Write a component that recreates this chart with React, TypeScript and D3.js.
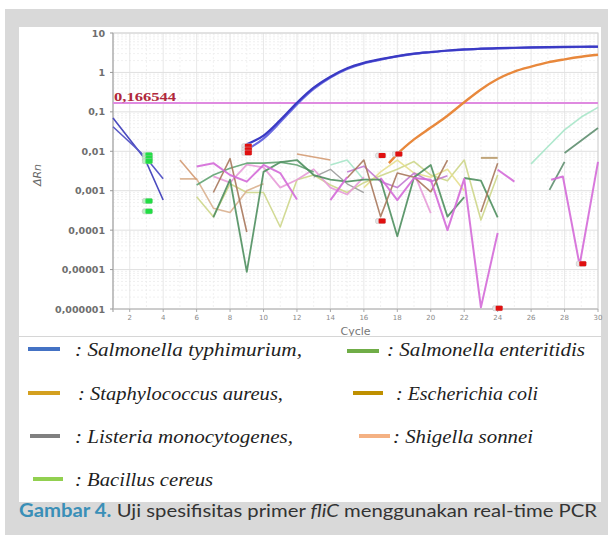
import React from "react";
import * as d3 from "d3";

type Pt = [number, number] | null;

// ---------- data ----------
const cycleTicks = [2, 4, 6, 8, 10, 12, 14, 16, 18, 20, 22, 24, 26, 28, 30];
const yTickValues = [10, 1, 0.1, 0.01, 0.001, 0.0001, 0.00001, 0.000001];
const yTickLabels = ["10", "1", "0,1", "0,01", "0,001", "0,0001", "0,00001", "0,000001"];
const thresholdValue = 0.166544;
const thresholdLabel = "0,166544";

const blueEarlyA: Pt[] = [[1, 0.07], [2.9, 0.0065], [4, 0.00058]];
const blueEarlyB: Pt[] = [[1, 0.042], [2.9, 0.0075], [4, 0.002]];
const blueAmpA: Pt[] = [[9, 0.015], [10, 0.025], [11, 0.062], [12, 0.17], [13, 0.41], [14, 0.78], [15, 1.28], [16, 1.75], [17, 2.17], [18, 2.6], [19, 3.0], [20, 3.3], [21, 3.6], [22, 3.85], [23, 4.0], [24, 4.12], [25, 4.22], [26, 4.3], [27, 4.37], [28, 4.43], [29, 4.48], [30, 4.52]];
const blueAmpB: Pt[] = [[9, 0.011], [10, 0.021], [11, 0.055], [12, 0.155], [13, 0.38], [14, 0.74], [15, 1.22], [16, 1.7], [17, 2.1], [18, 2.55], [19, 2.95], [20, 3.25], [21, 3.55], [22, 3.8], [23, 3.95], [24, 4.07], [25, 4.17], [26, 4.25], [27, 4.32], [28, 4.38], [29, 4.43], [30, 4.47]];
const orangeAmp: Pt[] = [[17.5, 0.005], [18, 0.0085], [19, 0.02], [20, 0.04], [21, 0.08], [22, 0.175], [23, 0.37], [24, 0.68], [25, 1.05], [26, 1.4], [27, 1.8], [28, 2.15], [29, 2.5], [30, 2.8]];

const greenDip: Pt[] = [[7, 0.00021], [8, 0.0019], [9, 0.0000087], [10, 0.003], [11, 0.0053], [12, 0.006], [13, 0.0025], [14, 0.0019], [15, 0.0017], [16, 0.0019], [17, 0.0019], [18, 0.00007], [19, 0.0022], [20, 0.0045], [21, 0.00022], [22, 0.00069]];
const greenArc: Pt[] = [[6, 0.0014], [7, 0.0025], [8, 0.0037], [9, 0.005], [10, 0.005], [11, 0.0053], [12, 0.0045], [13, 0.003]];
const greenLate: Pt[] = [[22, 0.0021], [23, 0.0018], [24, 0.00021]];
const magentaMain: Pt[] = [[6, 0.0041], [7, 0.005], [8, 0.0025], [9, 0.0017], [10, 0.0045], [11, 0.0028], [12, 0.0006], null, [14, 0.00058], [15, 0.0022], null, [17, 0.0021], [18, 0.00058], [19, 0.0021], [20, 0.0019], [21, 0.0001], [22, 0.002], [23, 0.0000011], [24, 0.000085], null, [24, 0.0034], [25, 0.0017], null, [27.2, 0.0019], [27.9, 0.0023], [28.9, 0.000013], [30, 0.0054]];
const pinkA: Pt[] = [[7, 0.0023], [8, 0.0016], [9, 0.0046], [10, 0.0039], [11, 0.0012], [12, 0.0019], [13, 0.0035], [14, 0.0012], [15, 0.0008], [16, 0.0022]];
const pinkB: Pt[] = [[19, 0.0028], [20, 0.00027]];
const brownA: Pt[] = [[7, 0.0009], [8, 0.0065], [9, 0.00009], null, [15, 0.0021], [16, 0.006], [17, 0.00022], [18, 0.0028], [19, 0.0022], [20, 0.00094], [21, 0.006], null, [23, 0.00029], [24, 0.005]];
const tanA: Pt[] = [[5, 0.006], [6, 0.0019], null, [12, 0.0085], [14, 0.006]];
const tanB: Pt[] = [[5, 0.002], [6, 0.002], [7, 0.00036], [8, 0.00028], [9, 0.001], [10, 0.0015]];
const oliveLight: Pt[] = [[6, 0.0007], [7, 0.00022], [8, 0.0015], [9, 0.0009], [10, 0.0009], [11, 0.00012], [12, 0.0019], [13, 0.0025], [14, 0.0014], [15, 0.0009], [16, 0.0016], [17, 0.0024], [18, 0.0035], [19, 0.0055], [20, 0.0025], [21, 0.0018], [22, 0.006], [23, 0.00018], [24, 0.0025]];
const yellowLight: Pt[] = [[16, 0.0012], [17, 0.003], [18, 0.006], [19, 0.0028], [20, 0.0022], [21, 0.0035], [22, 0.001]];
const mintA: Pt[] = [[14, 0.0045], [15, 0.006], [16, 0.0019], null, [26, 0.0048], [27, 0.013], [28, 0.035], [29, 0.074], [30, 0.13]];
const purpleA: Pt[] = [[15, 0.003], [16, 0.0042], [17, 0.0017], [18, 0.0012], [19, 0.0028], [20, 0.0017], [21, 0.0024]];
const grayA: Pt[] = [[13, 0.0022], [14, 0.0035], [15, 0.0015], [16, 0.0009]];
const ecoliShort: Pt[] = [[23, 0.0068], [24, 0.0068]];
const darkGreenRight: Pt[] = [[27.1, 0.00105], [28, 0.0054], null, [28, 0.009], [30, 0.039]];

const redMarkers: [number, number][] = [[9, 0.0135], [9, 0.011], [9, 0.0092], [17, 0.0078], [18, 0.0085], [17, 0.00017], [24, 0.00000105], [29, 0.000014]];
const greenMarkers: [number, number][] = [[3, 0.008], [3, 0.0066], [3, 0.0056], [3, 0.00055], [3, 0.0003]];

const legendLabels = [": Salmonella typhimurium,", ": Salmonella enteritidis", ": Staphylococcus aureus,", ": Escherichia coli", ": Listeria monocytogenes,", ": Shigella sonnei", ": Bacillus cereus"];

// ---------- styles ----------
const noiseSeries: { d: Pt[]; c: string; w: number }[] = [
  { d: oliveLight, c: "#cdd68a", w: 1.6 },
  { d: yellowLight, c: "#e6df8e", w: 1.6 },
  { d: tanB, c: "#d9b08e", w: 1.6 },
  { d: tanA, c: "#d39a72", w: 1.6 },
  { d: mintA, c: "#a6e6c8", w: 1.6 },
  { d: grayA, c: "#9a9a9a", w: 1.4 },
  { d: pinkA, c: "#e79bd8", w: 1.8 },
  { d: pinkB, c: "#e79bd8", w: 1.8 },
  { d: purpleA, c: "#c27ad2", w: 1.6 },
  { d: greenArc, c: "#62a372", w: 1.6 },
  { d: greenLate, c: "#4f8f5f", w: 1.8 },
  { d: greenDip, c: "#4f8f5f", w: 1.8 },
  { d: brownA, c: "#a8785c", w: 1.6 },
  { d: ecoliShort, c: "#b89a6a", w: 2 },
  { d: darkGreenRight, c: "#5f8f70", w: 1.8 },
  { d: magentaMain, c: "#d46ad8", w: 2 },
];

const legendItems = [
  { col: 0, row: 0, sw: [28, 60], tx: 75, tl: 227, c: "#4472c4" },
  { col: 1, row: 0, sw: [347, 379], tx: 387, tl: 198, c: "#70ad47" },
  { col: 0, row: 1, sw: [28, 60], tx: 78, tl: 205, c: "#d4a020" },
  { col: 1, row: 1, sw: [353, 383], tx: 396, tl: 142, c: "#bf9000" },
  { col: 0, row: 2, sw: [30, 60], tx: 75, tl: 218, c: "#808080" },
  { col: 1, row: 2, sw: [359, 390], tx: 393, tl: 140, c: "#f4b183" },
  { col: 0, row: 3, sw: [33, 63], tx: 75, tl: 138, c: "#92d050" },
];
const legendRowY = [349, 393, 436, 479];

export default function App() {
  const W = 608, H = 535;
  const left = 113, right = 598, top = 33, bottom = 309;
  const x = d3.scaleLinear().domain([1, 30]).range([left, right]);
  const y = d3.scaleLog().domain([1e-6, 10]).range([bottom, top]);

  const line = d3.line<Pt>().defined((p) => p !== null).x((p) => x((p as [number, number])[0])).y((p) => y((p as [number, number])[1]));
  const smooth = d3.line<Pt>().defined((p) => p !== null).x((p) => x((p as [number, number])[0])).y((p) => y((p as [number, number])[1])).curve(d3.curveMonotoneX);

  const cycles = d3.range(1, 31);
  const minorVals: number[] = [];
  for (let e = -6; e < 1; e++) for (let m = 2; m <= 9; m++) minorVals.push(m * Math.pow(10, e));

  const marker = (cx: number, cy: number, col: string, light: string, key: string) => (
    <g key={key}>
      <rect x={cx - 5} y={cy - 2.5} width={10} height={5} rx={1.5} fill={light} stroke="#bbb" strokeWidth={0.5} />
      <rect x={cx - 2} y={cy - 2.5} width={7} height={5} rx={1} fill={col} />
    </g>
  );

  return (
    <svg width={W} height={H} style={{ position: "absolute", left: 0, top: 0 }} xmlns="http://www.w3.org/2000/svg">
      <rect x={0} y={0} width={W} height={H} fill="#ffffff" />
      <rect x={5} y={9} width={W - 5} height={H - 9} fill="#d9d9d9" />
      <rect x={19} y={27} width={582} height={475} fill="#ffffff" />

      {/* grid */}
      {minorVals.map((v, i) => (
        <line key={"hm" + i} x1={left} x2={right} y1={y(v)} y2={y(v)} stroke="#ececec" strokeWidth={0.8} strokeDasharray="2,2" />
      ))}
      {cycles.map((c) => (
        <line key={"v" + c} x1={x(c)} x2={x(c)} y1={top} y2={bottom} stroke={c % 2 === 0 ? "#e2e2e2" : "#ededed"} strokeWidth={0.8} strokeDasharray={c % 2 === 0 ? undefined : "2,2"} />
      ))}
      {yTickValues.map((v, i) => (
        <line key={"hM" + i} x1={left} x2={right} y1={y(v)} y2={y(v)} stroke="#e0e0e0" strokeWidth={1} />
      ))}

      {/* frame */}
      <rect x={left} y={top} width={right - left} height={bottom - top} fill="none" stroke="#d4d4d4" strokeWidth={1} />
      <line x1={left} x2={left} y1={top} y2={bottom + 3} stroke="#a8a8a8" strokeWidth={1.2} />
      <line x1={left} x2={right} y1={bottom} y2={bottom} stroke="#b8b8b8" strokeWidth={1.2} />

      {/* y ticks */}
      {yTickValues.map((v, i) => (
        <g key={"yt" + i}>
          <line x1={left - 3} x2={left} y1={y(v)} y2={y(v)} stroke="#999" />
          <text x={left - 8} y={y(v) + 3.5} textAnchor="end" fontFamily="DejaVu Sans" fontWeight="bold" fontSize={9.5} fill="#6e6e6e">{yTickLabels[i]}</text>
        </g>
      ))}
      {/* x ticks */}
      {cycleTicks.map((c) => (
        <g key={"xt" + c}>
          <line x1={x(c)} x2={x(c)} y1={bottom} y2={bottom + 3} stroke="#aaa" />
          <text x={x(c)} y={bottom + 11} textAnchor="middle" fontFamily="DejaVu Sans" fontSize={7} fill="#8a8a8a">{c}</text>
        </g>
      ))}
      <text x={(left + right) / 2} y={335} textAnchor="middle" fontFamily="DejaVu Sans" fontSize={11} fill="#777">Cycle</text>
      <text transform="translate(41,175) rotate(-90)" textAnchor="middle" fontFamily="DejaVu Sans" fontStyle="italic" fontSize={11} fill="#666">ΔRn</text>

      {/* noise */}
      {noiseSeries.map((s, i) => (
        <path key={"n" + i} d={line(s.d) || ""} fill="none" stroke={s.c} strokeWidth={s.w} strokeOpacity={0.9} strokeLinejoin="round" />
      ))}

      {/* threshold */}
      <line x1={left} x2={right} y1={y(thresholdValue)} y2={y(thresholdValue)} stroke="#df8ae0" strokeWidth={2} />
      <text x={114} y={y(thresholdValue) - 2} fontFamily="Liberation Serif" fontWeight="bold" fontSize={12.5} fill="#b0283c" textLength={62} lengthAdjust="spacingAndGlyphs">{thresholdLabel}</text>

      {/* amplification curves */}
      <path d={line(blueEarlyA) || ""} fill="none" stroke="#4b4bbf" strokeWidth={1.6} />
      <path d={line(blueEarlyB) || ""} fill="none" stroke="#5a5ac8" strokeWidth={1.6} />
      <path d={smooth(orangeAmp) || ""} fill="none" stroke="#e8883c" strokeWidth={2.4} />
      <path d={smooth(blueAmpB) || ""} fill="none" stroke="#6a6ae0" strokeWidth={2.2} />
      <path d={smooth(blueAmpA) || ""} fill="none" stroke="#3a3ac4" strokeWidth={2.2} />

      {/* markers */}
      {greenMarkers.map((m, i) => marker(x(m[0]) + 1, y(m[1]), "#22dd44", "#bdeec5", "g" + i))}
      {redMarkers.map((m, i) => marker(x(m[0]), y(m[1]), "#e01010", "#e6e6e6", "r" + i))}

      {/* chart image bottom border */}
      <rect x={19} y={337} width={582} height={6} fill="#ffffff" />
      <line x1={19} x2={601} y1={336.5} y2={336.5} stroke="#d6d6d6" strokeWidth={1} />

      {/* legend */}
      {legendItems.map((it, i) => (
        <g key={"lg" + i}>
          <line x1={it.sw[0]} x2={it.sw[1]} y1={legendRowY[it.row] + (it.col === 1 && it.row === 0 ? 2 : 0)} y2={legendRowY[it.row] + (it.col === 1 && it.row === 0 ? 2 : 0)} stroke={it.c} strokeWidth={4} />
          <text x={it.tx} y={legendRowY[it.row] + 7} fontFamily="Liberation Serif" fontStyle="italic" fontSize={19} fill="#1e1e1e" textLength={it.tl} lengthAdjust="spacingAndGlyphs">{legendLabels[i]}</text>
        </g>
      ))}

      {/* caption */}
      <text x={19} y={517} fontFamily="Lato" fontSize={18} fill="#333" textLength={578} lengthAdjust="spacingAndGlyphs">
        <tspan fill="#3a8fb7" fontWeight="bold">Gambar 4.</tspan>
        <tspan> Uji spesifisitas primer </tspan>
        <tspan fontStyle="italic">fliC</tspan>
        <tspan> menggunakan real-time PCR</tspan>
      </text>
    </svg>
  );
}
